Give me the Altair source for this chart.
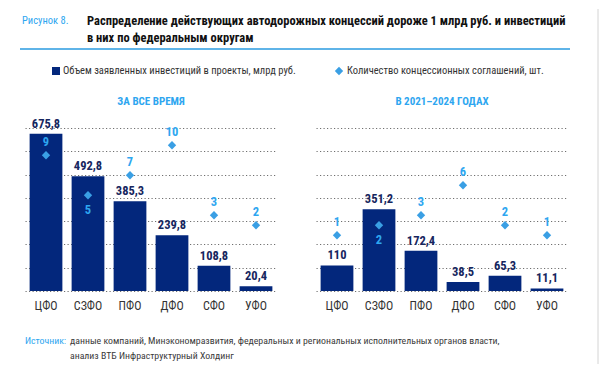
import altair as alt
import pandas as pd

districts = ["ЦФО", "СЗФО", "ПФО", "ДФО", "СФО", "УФО"]
invest_all = [675.8, 492.8, 385.3, 239.8, 108.8, 20.4]
count_all = [9, 5, 7, 10, 3, 2]
invest_recent = [110, 351.2, 172.4, 38.5, 65.3, 11.1]
count_recent = [1, 2, 3, 6, 2, 1]
below_all = ["СЗФО"]
below_recent = ["СЗФО"]
grid_values = [0, 100, 200, 300, 400, 500, 600, 700]

fig_label = "Рисунок 8."
title_lines = ["Распределение действующих автодорожных концессий дороже 1 млрд руб. и инвестиций",
               "в них по федеральным округам"]
legend_bar = "Объем заявленных инвестиций в проекты, млрд руб."
legend_pt = "Количество концессионных соглашений, шт."
panel_titles = ["ЗА ВСЕ ВРЕМЯ", "В 2021–2024 ГОДАХ"]
source_label = "Источник:"
source_lines = ["данные компаний, Минэкономразвития, федеральных и региональных исполнительных органов власти,",
                "анализ ВТБ Инфраструктурный Холдинг"]

FONT = "Roboto Condensed"
NAVY = "#03277c"
LIGHT = "#3a9fe4"
LTXT = "#2ea6f0"
DARK = "#333333"
W, H = 252, 163


def txt(s, x, y, size, color, weight="normal", align="left"):
    return alt.Chart(alt.Data(values=[{"t": s}])).mark_text(
        align=align, baseline="middle", font=FONT, fontSize=size, color=color, fontWeight=weight
    ).encode(x=alt.value(x), y=alt.value(y), text="t:N")


def panel(inv, cnt, below, title, extras):
    df = pd.DataFrame({"d": districts, "v": inv, "c": cnt,
                       "below": [d in below for d in districts]})
    base = alt.Chart(df).encode(
        x=alt.X("d:N", sort=districts,
                scale=alt.Scale(paddingInner=0.22, paddingOuter=0.11),
                axis=alt.Axis(title=None, domain=False, ticks=False, labelPadding=9,
                              labelFont=FONT, labelFontSize=12, labelColor=DARK, labelAngle=0))
    )
    yscale = alt.Scale(domain=[0, 700], nice=False, zero=True)
    bars = base.mark_bar(color=NAVY).encode(
        y=alt.Y("v:Q", scale=yscale,
                axis=alt.Axis(title=None, labels=False, ticks=False, domain=False, grid=True,
                              gridDash=[1.2, 2.3], gridColor="#6f6f6f", gridWidth=1,
                              values=grid_values))
    )
    blabels = base.mark_text(baseline="bottom", dy=-3, font=FONT, fontSize=12.5,
                             fontWeight="bold", color="#16265e").encode(
        y=alt.Y("v:Q", scale=yscale, axis=None),
        text="lbl:N"
    ).transform_calculate(lbl="replace(format(datum.v, '.1~f'), '.', ',')")
    cscale = alt.Scale(domain=[-4.57, 11.73], nice=False, zero=False)
    pts = base.mark_point(shape="diamond", filled=True, size=70, color=LIGHT, opacity=1).encode(
        y=alt.Y("c:Q", scale=cscale, axis=None)
    )
    cl_above = base.mark_text(baseline="middle", dy=-13, font=FONT, fontSize=12.5,
                              fontWeight="bold", color=LTXT).encode(
        y=alt.Y("c:Q", scale=cscale, axis=None), text="c:Q"
    ).transform_filter("!datum.below")
    cl_below = base.mark_text(baseline="middle", dy=15, font=FONT, fontSize=12.5,
                              fontWeight="bold", color=LTXT).encode(
        y=alt.Y("c:Q", scale=cscale, axis=None), text="c:Q"
    ).transform_filter("datum.below")
    ttl = txt(title, W / 2, -26, 11, LTXT, "bold", "center")
    layers = extras + [bars, blabels, pts, cl_above, cl_below, ttl]
    return alt.layer(*layers).resolve_scale(y="independent").properties(width=W, height=H)


frame = alt.Chart(alt.Data(values=[{}])).mark_rect(opacity=0).encode(
    x=alt.value(-17), x2=alt.value(573), y=alt.value(-119), y2=alt.value(236))
edge = alt.Chart(alt.Data(values=[{}])).mark_rule(color="#d4d4d4", strokeWidth=1).encode(
    x=alt.value(573), y=alt.value(-119), y2=alt.value(236))
header_rule = alt.Chart(alt.Data(values=[{}])).mark_rule(color="#2a9be0", strokeWidth=1.5).encode(
    x=alt.value(-5), x2=alt.value(545), y=alt.value(-79))
leg_sq = alt.Chart(alt.Data(values=[{}])).mark_point(shape="square", filled=True, size=64,
                                                     color=NAVY, opacity=1).encode(
    x=alt.value(31), y=alt.value(-57))
leg_dm = alt.Chart(alt.Data(values=[{}])).mark_point(shape="diamond", filled=True, size=70,
                                                     color=LIGHT, opacity=1).encode(
    x=alt.value(314), y=alt.value(-57))

extras_left = [
    frame, edge, header_rule,
    txt(fig_label, -3, -107, 10.5, LTXT),
    txt(title_lines[0], 62, -107, 12.5, "#111111", "bold"),
    txt(title_lines[1], 62, -90, 12.5, "#111111", "bold"),
    leg_sq, txt(legend_bar, 38, -57, 10.5, DARK),
    leg_dm, txt(legend_pt, 322, -57, 10.5, DARK),
    txt(source_label, 0, 213, 9.8, LTXT),
    txt(source_lines[0], 45, 213, 9.8, "#3a3a3a"),
    txt(source_lines[1], 45, 228, 9.8, "#3a3a3a"),
]

left = panel(invest_all, count_all, below_all, panel_titles[0], extras_left)
right = panel(invest_recent, count_recent, below_recent, panel_titles[1], [])

chart = alt.hconcat(left, right, spacing=39, bounds="flush").properties(
    padding=0
).configure_view(stroke=None)

chart.save("out.html", embed_options={"renderer": "svg", "actions": False})
